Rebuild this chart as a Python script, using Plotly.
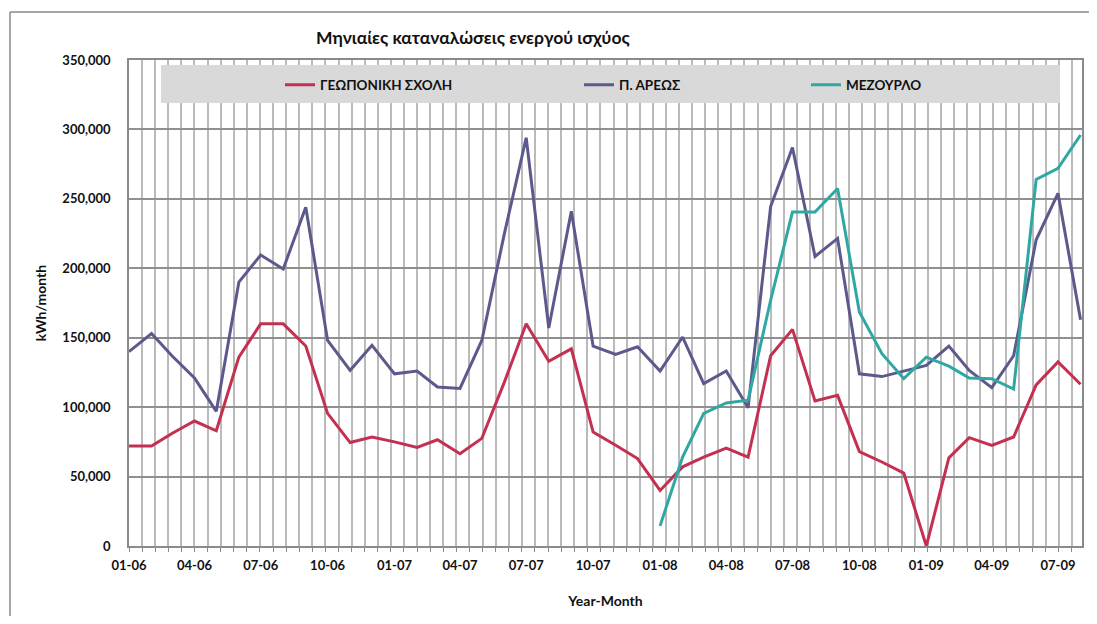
import plotly.graph_objects as go

# ---------------- data ----------------
months = [
    "2006-01-01", "2006-02-01", "2006-03-01", "2006-04-01", "2006-05-01", "2006-06-01",
    "2006-07-01", "2006-08-01", "2006-09-01", "2006-10-01", "2006-11-01", "2006-12-01",
    "2007-01-01", "2007-02-01", "2007-03-01", "2007-04-01", "2007-05-01", "2007-06-01",
    "2007-07-01", "2007-08-01", "2007-09-01", "2007-10-01", "2007-11-01", "2007-12-01",
    "2008-01-01", "2008-02-01", "2008-03-01", "2008-04-01", "2008-05-01", "2008-06-01",
    "2008-07-01", "2008-08-01", "2008-09-01", "2008-10-01", "2008-11-01", "2008-12-01",
    "2009-01-01", "2009-02-01", "2009-03-01", "2009-04-01", "2009-05-01", "2009-06-01",
    "2009-07-01", "2009-08-01",
]

geoponiki = [
    72000, 72000, 81000, 90000, 83000, 136000, 160000, 160000, 144000, 95500,
    74500, 78500, 75000, 71000, 76500, 66500, 77500, 118000, 160000, 133000,
    142000, 82000, 72500, 63000, 40000, 57000, 64000, 70500, 64000, 137000,
    156000, 104500, 108500, 68000, 60500, 52500, 0, 63500, 78000, 72500,
    78500, 116000, 132500, 116500,
]

p_areos = [
    140000, 153000, 137000, 121000, 97000, 190000, 209500, 199500, 244000, 148000,
    126500, 144500, 124000, 126000, 114500, 113500, 148000, 225000, 294000, 157000,
    241000, 144000, 138000, 143500, 126000, 150500, 117000, 126000, 99500, 244500,
    287000, 208500, 221500, 124000, 122000, 126000, 130000, 144000, 126500, 114000,
    137000, 220500, 254000, 163000,
]

mezourlo = [
    None, None, None, None, None, None, None, None, None, None,
    None, None, None, None, None, None, None, None, None, None,
    None, None, None, None, 14500, 64000, 95500, 103000, 105000, 177000,
    240500, 240500, 257500, 168500, 138500, 120500, 136000, 129500, 121000, 120500,
    113000, 264000, 272000, 296000,
]

tick_months = [
    "2006-01-01", "2006-04-01", "2006-07-01", "2006-10-01", "2007-01-01",
    "2007-04-01", "2007-07-01", "2007-10-01", "2008-01-01", "2008-04-01",
    "2008-07-01", "2008-10-01", "2009-01-01", "2009-04-01", "2009-07-01",
]
tick_labels = [
    "01-06", "04-06", "07-06", "10-06", "01-07", "04-07", "07-07", "10-07",
    "01-08", "04-08", "07-08", "10-08", "01-09", "04-09", "07-09",
]

series_names = ["ΓΕΩΠΟΝΙΚΗ ΣΧΟΛΗ", "Π. ΑΡΕΩΣ", "ΜΕΖΟΥΡΛΟ"]
series_colors = ["#c4304f", "#5c5a8c", "#2fa8a4"]

# ---------------- layout geometry (reference pixel coordinates) ----------------
OFF = 8                              # default page body margin
W, H = 1097, 624                     # window size
FW, FH = W - 2 * OFF, H - 2 * OFF    # figure size (no page overflow)
L, R, T, B = 129, 1082, 60, 546


def px_x(px):
    return (px - L) / (R - L)


def px_y(py):
    return (B - py) / (B - T)


FONT = "Lato"
TXT = "#111111"

fig = go.Figure()
legend_ids = ["legend", "legend2", "legend3"]
for name, vals, col, lg in zip(series_names, [geoponiki, p_areos, mezourlo],
                               series_colors, legend_ids):
    fig.add_trace(go.Scatter(
        x=months, y=vals, name=name, mode="lines",
        line=dict(color=col, width=3),
        connectgaps=False, legend=lg,
    ))

legend_common = dict(
    orientation="h", bgcolor="rgba(0,0,0,0)", borderwidth=0,
    font=dict(family=FONT, size=13.5, color=TXT, weight="bold"),
    yanchor="middle", xanchor="left", itemwidth=30,
)

fig.update_layout(
    width=FW, height=FH,
    margin=dict(l=L - OFF, r=(FW + OFF) - R, t=T - OFF, b=(FH + OFF) - B,
                autoexpand=False),
    paper_bgcolor="white", plot_bgcolor="white",
    showlegend=True,
    title=dict(
        text="Μηνιαίες καταναλώσεις ενεργού ισχύος",
        font=dict(family=FONT, size=17.5, color=TXT, weight="bold"),
        xref="container", yref="container",
        x=(316 - OFF) / FW, xanchor="left", y=1 - (38 - OFF) / FH, yanchor="middle",
    ),
    legend=dict(x=px_x(280), y=px_y(85), **legend_common),
    legend2=dict(x=px_x(579), y=px_y(85), **legend_common),
    legend3=dict(x=px_x(806), y=px_y(85), **legend_common),
    xaxis=dict(
        type="date",
        range=["2006-01-01", "2009-08-03"],
        tickmode="array", tickvals=tick_months, ticktext=tick_labels,
        ticks="", showgrid=False,
        tickfont=dict(family=FONT, size=13, color=TXT, weight="bold"),
        showline=True, linecolor="#8a8a8a", linewidth=1.5, mirror=True,
        minor=dict(
            tick0="2006-01-01", dtick=18 * 86400000,
            showgrid=True, gridcolor="#bababa", gridwidth=1.5,
            ticks="outside", ticklen=4, tickcolor="#8a8a8a",
        ),
        ticklabelstandoff=7,
        title=dict(text="Year-Month", standoff=24,
                   font=dict(family=FONT, size=14, color=TXT, weight="bold")),
        automargin=False,
    ),
    yaxis=dict(
        range=[0, 350000], dtick=50000, tickformat=",",
        showgrid=True, gridcolor="#8f8f8f", gridwidth=1.5,
        ticks="", zeroline=False,
        tickfont=dict(family=FONT, size=13, color=TXT, weight="bold"),
        showline=True, linecolor="#8a8a8a", linewidth=1.5, mirror=True,
        ticklabelstandoff=14,
        title=dict(text="kWh/month", standoff=12,
                   font=dict(family=FONT, size=14, color=TXT, weight="bold")),
        automargin=False,
    ),
    shapes=[
        # grey legend band
        dict(type="rect", xref="paper", yref="paper",
             x0=px_x(161), x1=px_x(1060), y0=px_y(103), y1=px_y(65),
             fillcolor="#d9d9d9", line=dict(width=0), layer="above"),
        # outer chart border: left and top edges only (others fall outside the view)
        dict(type="line", xref="paper", yref="paper",
             x0=px_x(10), x1=px_x(10), y0=px_y(624), y1=px_y(12),
             line=dict(color="#8a8a8a", width=1.5), layer="above"),
        dict(type="line", xref="paper", yref="paper",
             x0=px_x(10), x1=px_x(1089), y0=px_y(12), y1=px_y(12),
             line=dict(color="#8a8a8a", width=1.5), layer="above"),
    ],
)

fig.write_html("out.html")
